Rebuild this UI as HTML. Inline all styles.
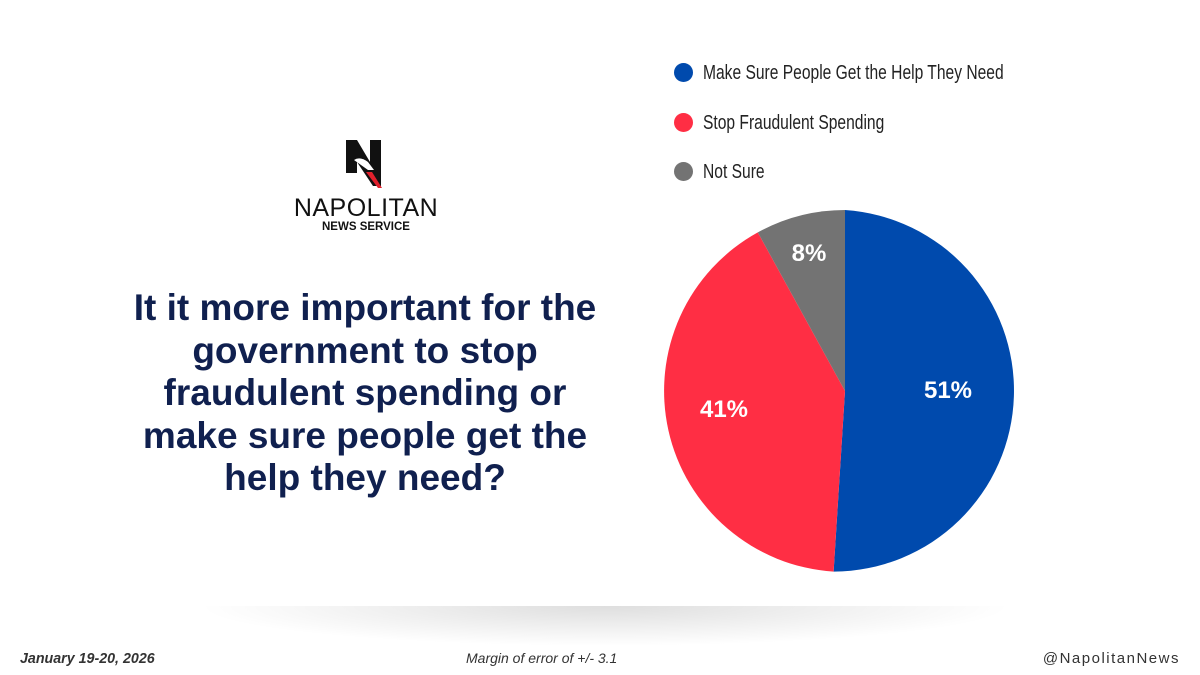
<!DOCTYPE html>
<html><head><meta charset="utf-8"><style>
body{margin:0;width:1200px;height:675px;background:#fff;position:relative;overflow:hidden;font-family:"Liberation Sans",sans-serif}
.shadow{position:absolute;left:200px;top:606px;width:810px;height:40px;background:radial-gradient(ellipse 50% 100% at 50% 0%,rgba(0,0,0,0.13),rgba(0,0,0,0) 100%)}
.title{position:absolute;left:65px;width:600px;top:287px;text-align:center;color:#10204f;font-weight:bold;font-size:37px;line-height:42.5px;white-space:nowrap}
.leg{position:absolute;left:674px;font-size:20px;color:#222;white-space:nowrap}
.leg span{display:inline-block;width:19px;height:19px;border-radius:50%;vertical-align:-3px;margin-right:10px}
.leg b{font-weight:normal;display:inline-block;transform:scaleX(0.78);transform-origin:0 50%}
.foot{position:absolute;top:650px;font-size:15px;color:#333;white-space:nowrap}
</style></head><body>
<div class="shadow"></div>
<svg style="position:absolute;left:0;top:0" width="1200" height="675">
<g transform="translate(346,140)">
<path d="M0 0H11L24 22V0H35V46H27L11 22V33H0Z" fill="#111"/>
<path d="M8 20Q14 16 22 22L28 30L22 30Z" fill="#fff"/>
<path d="M20 32L26 32L36 48L32 48Z" fill="#e0202c"/>
</g>
<text x="366" y="216" text-anchor="middle" font-family="Liberation Sans" font-size="25" fill="#111" letter-spacing="0.5">NAPOLITAN</text>
<text x="366" y="230" text-anchor="middle" font-family="Liberation Sans" font-weight="bold" font-size="11.5" fill="#111">NEWS SERVICE</text>
<path d="M845 391L845 210A181 181 0 0 1 833.6 571.6Z" fill="#004aad"/>
<path d="M845 391L833.6 571.6A181 181 0 0 1 757.8 232.4Z" fill="#ff2e44"/>
<path d="M845 391L757.8 232.4A181 181 0 0 1 845 210Z" fill="#737373"/>
<g font-family="Liberation Sans" font-weight="bold" font-size="24" fill="#fff" text-anchor="middle">
<text x="948" y="398">51%</text><text x="724" y="417">41%</text><text x="809" y="261">8%</text></g>
</svg>
<div class="title">It it more important for the<br>government to stop<br>fraudulent spending or<br>make sure people get the<br>help they need?</div>
<div class="leg" style="top:62px"><span style="background:#004aad"></span><b>Make Sure People Get the Help They Need</b></div>
<div class="leg" style="top:112px"><span style="background:#ff2e44"></span><b>Stop Fraudulent Spending</b></div>
<div class="leg" style="top:161px"><span style="background:#737373"></span><b>Not Sure</b></div>
<div class="foot" style="left:20px;font-weight:bold;font-style:italic;transform:scaleX(0.95);transform-origin:0 0">January 19-20, 2026</div>
<div class="foot" style="left:466px;font-style:italic;font-size:14px">Margin of error of +/- 3.1</div>
<div class="foot" style="right:20px;letter-spacing:1.5px">@NapolitanNews</div>
</body></html>
